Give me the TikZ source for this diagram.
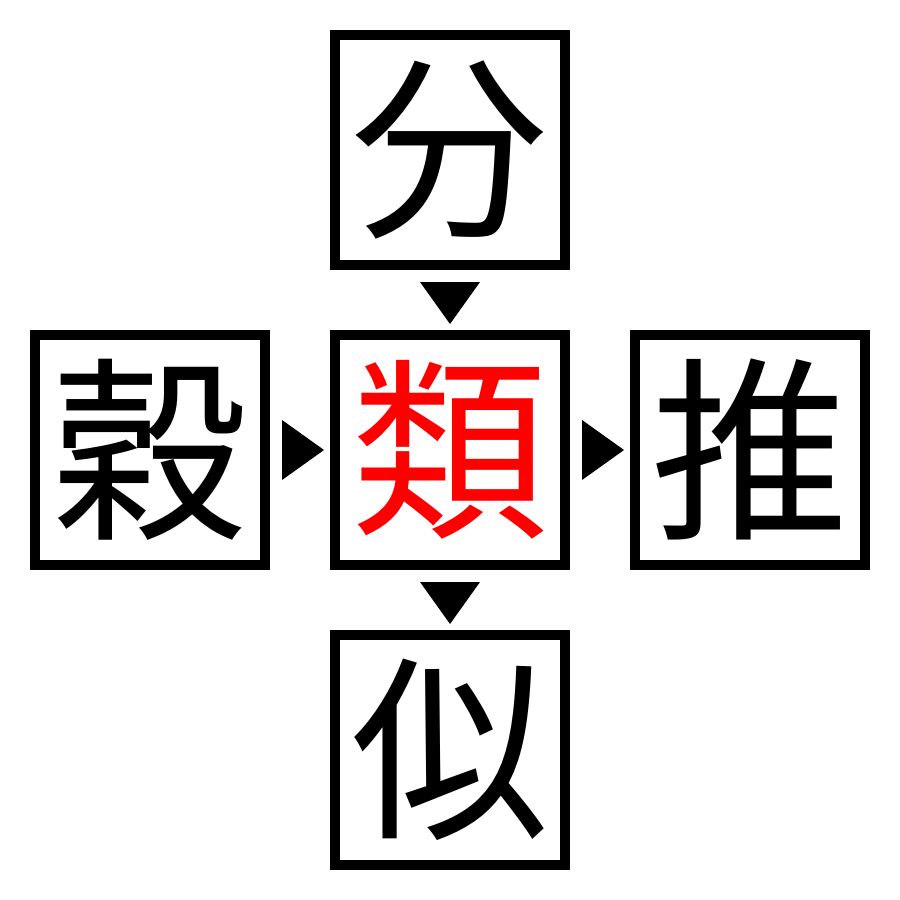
\documentclass[tikz,border=0pt]{standalone}
\usepackage{fontspec}
\usepackage{tikz}
\newfontfamily\jpfont{Noto Sans CJK JP}

\begin{document}
\begin{tikzpicture}[x=0.1mm,y=0.1mm,yscale=-1,
  kanjibox/.style={draw=black,line width=1mm,minimum size=23mm,inner sep=0pt,
    font=\jpfont\fontsize{56}{56}\selectfont}]
\useasboundingbox (0,0) rectangle (900,900);

% Boxes
\node [kanjibox] (fen) at (450,150) {分};
\node [kanjibox] (koku) at (150,450) {穀};
\node [kanjibox,text={rgb,255:red,255;green,0;blue,0}] (rui) at (450,450) {類};
\node [kanjibox] (sui) at (750,450) {推};
\node [kanjibox] (ji) at (450,750) {似};

% Triangles
\fill (rui.north) ++(0,-6) -- ++(-30,-42) -- ++(60,0) -- cycle;
\fill (rui.west) ++(-6,0) -- ++(-42,-30) -- ++(0,60) -- cycle;
\fill (sui.west) ++(-6,0) -- ++(-42,-30) -- ++(0,60) -- cycle;
\fill (ji.north) ++(0,-6) -- ++(-30,-42) -- ++(60,0) -- cycle;

\end{tikzpicture}
\end{document}
